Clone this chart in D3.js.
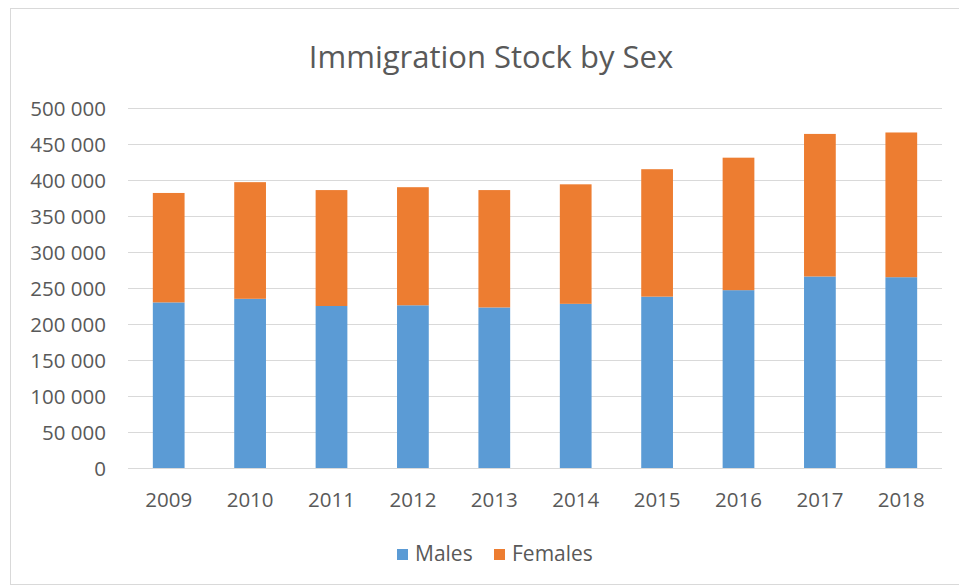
<!DOCTYPE html>
<html>
<head>
<meta charset="utf-8">
<script src="https://cdn.jsdelivr.net/npm/d3@7"></script>
<style>
  body { margin: 0; background: #fff; }
  text { font-family: "Open Sans", "Liberation Sans", sans-serif; fill: #595959; }
</style>
</head>
<body>
<div id="chart"></div>
<script>
const years = ["2009", "2010", "2011", "2012", "2013", "2014", "2015", "2016", "2017", "2018"];
const males = [230000, 235000, 225000, 226000, 223000, 228000, 238000, 247000, 266000, 265000];
const females = [152000, 162000, 161000, 164000, 163000, 166000, 177000, 184000, 198000, 201000];
const seriesNames = ["Males", "Females"];
const seriesColors = ["#5b9bd5", "#ed7d31"];
const yTicks = [0, 50000, 100000, 150000, 200000, 250000, 300000, 350000, 400000, 450000, 500000];

(() => {
    const width = 959, height = 587, margin = { top: 108, right: 17, bottom: 119, left: 128 };
    const innerW = width - margin.left - margin.right, innerH = height - margin.top - margin.bottom;

    const rows = years.map((y, i) => ({ year: y, Males: males[i], Females: females[i] }));
    const stacked = d3.stack().keys(seriesNames)(rows);

    const x = d3.scaleBand().domain(years).range([0, innerW]).paddingInner(0.61).paddingOuter(0.305);
    const y = d3.scaleLinear().domain([0, 500000]).range([innerH, 0]);
    const color = d3.scaleOrdinal().domain(seriesNames).range(seriesColors);

    const svg = d3.select("#chart").append("svg")
        .attr("width", width)
        .attr("height", height);

    // outer chart border
    svg.append("rect")
        .attr("x", 10.5).attr("y", 8.5)
        .attr("width", width).attr("height", 576)
        .attr("fill", "none").attr("stroke", "#d9d9d9");

    svg.append("text")
        .attr("x", 491).attr("y", 68)
        .attr("text-anchor", "middle")
        .style("font-size", "31px")
        .text("Immigration Stock by Sex");

    const chart = svg.append("g").attr("transform", `translate(${margin.left},${margin.top})`);

    // gridlines
    chart.append("g").selectAll("line")
        .data(yTicks)
        .join("line")
        .attr("x1", 0).attr("x2", innerW)
        .attr("y1", d => Math.round(y(d)) + 0.5).attr("y2", d => Math.round(y(d)) + 0.5)
        .attr("stroke", "#d9d9d9").attr("stroke-width", 1);

    const fmt = d => d3.format(",")(d).replace(/,/g, " ");

    const yAxis = chart.append("g")
        .call(d3.axisLeft(y).tickValues(yTicks).tickFormat(fmt).tickSize(0).tickPadding(22));
    yAxis.select(".domain").remove();
    yAxis.selectAll("text").style("font-size", "20.5px").attr("fill", "#595959").attr("dy", "0.35em");

    const xAxis = chart.append("g")
        .attr("transform", `translate(0,${innerH})`)
        .call(d3.axisBottom(x).tickSize(0).tickPadding(24));
    xAxis.select(".domain").remove();
    xAxis.selectAll("text").style("font-size", "20.5px").attr("fill", "#595959");

    chart.append("g").selectAll("g")
        .data(stacked)
        .join("g")
        .attr("fill", d => color(d.key))
        .selectAll("rect")
        .data(d => d)
        .join("rect")
        .attr("x", d => x(d.data.year))
        .attr("y", d => y(d[1]))
        .attr("width", x.bandwidth())
        .attr("height", d => y(d[0]) - y(d[1]));

    // legend
    const legendX = [397, 494];
    const legend = svg.append("g").selectAll("g")
        .data(seriesNames)
        .join("g")
        .attr("transform", (d, i) => `translate(${legendX[i]},549)`);
    legend.append("rect")
        .attr("width", 11).attr("height", 11)
        .attr("fill", d => color(d));
    legend.append("text")
        .attr("x", 18).attr("y", 12)
        .style("font-size", "21px")
        .text(d => d);
})();
</script>
</body>
</html>
